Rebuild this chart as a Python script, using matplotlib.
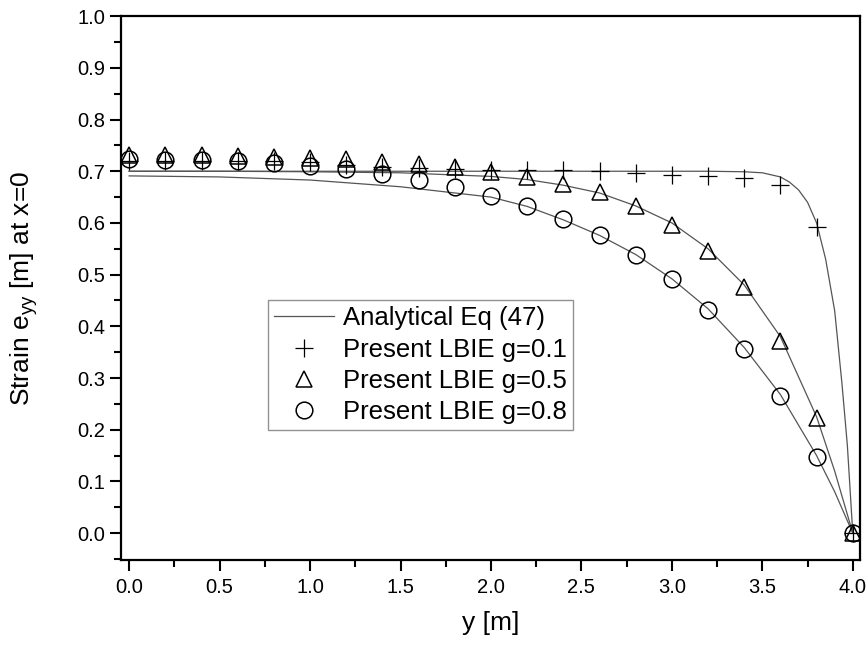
import matplotlib
matplotlib.use("Agg")
import matplotlib.pyplot as plt
from matplotlib.ticker import MultipleLocator, FormatStrFormatter

plt.rcParams['font.family'] = ['Liberation Sans', 'DejaVu Sans']
plt.rcParams['mathtext.fontset'] = 'custom'
plt.rcParams['mathtext.rm'] = 'Liberation Sans'
plt.rcParams['mathtext.it'] = 'Liberation Sans:italic'

# LBIE points
y_pts = [0.0, 0.2, 0.4, 0.6, 0.8, 1.0, 1.2, 1.4, 1.6, 1.8, 2.0,
         2.2, 2.4, 2.6, 2.8, 3.0, 3.2, 3.4, 3.6, 3.8, 4.0]
e_g01 = [0.720, 0.720, 0.720, 0.720, 0.719, 0.717, 0.713, 0.709, 0.707, 0.705, 0.703,
         0.703, 0.702, 0.700, 0.697, 0.693, 0.690, 0.687, 0.673, 0.592, 0.0]
e_g05 = [0.731, 0.731, 0.731, 0.730, 0.728, 0.725, 0.723, 0.718, 0.714, 0.708, 0.699,
         0.689, 0.676, 0.659, 0.632, 0.596, 0.546, 0.476, 0.372, 0.223, 0.0]
e_g08 = [0.723, 0.721, 0.721, 0.719, 0.715, 0.710, 0.704, 0.695, 0.683, 0.669, 0.652,
         0.633, 0.608, 0.576, 0.538, 0.491, 0.432, 0.357, 0.265, 0.148, 0.0]

# analytical curves
ya_g01 = [0.0, 0.5, 1.0, 1.5, 2.0, 2.5, 3.0, 3.2, 3.4, 3.5, 3.6, 3.65, 3.7,
          3.75, 3.8, 3.85, 3.9, 3.94, 3.97, 4.0]
ea_g01 = [0.700, 0.700, 0.700, 0.700, 0.700, 0.700, 0.700, 0.700, 0.699, 0.697,
          0.689, 0.679, 0.664, 0.640, 0.600, 0.530, 0.430, 0.290, 0.170, 0.0]
ya_g05 = [0.0, 0.5, 1.0, 1.5, 2.0, 2.2, 2.4, 2.6, 2.8, 3.0, 3.2, 3.4, 3.6, 3.8, 3.9, 4.0]
ea_g05 = [0.700, 0.700, 0.699, 0.697, 0.690, 0.684, 0.673, 0.658, 0.633, 0.600,
          0.550, 0.480, 0.380, 0.225, 0.120, 0.0]
ya_g08 = [0.0, 0.5, 1.0, 1.5, 2.0, 2.2, 2.4, 2.6, 2.8, 3.0, 3.2, 3.4, 3.6, 3.8, 3.9, 4.0]
ea_g08 = [0.691, 0.689, 0.683, 0.670, 0.650, 0.632, 0.606, 0.576, 0.539, 0.492,
          0.434, 0.359, 0.268, 0.150, 0.080, 0.0]

fig = plt.figure(figsize=(8.68, 6.46), dpi=100)
ax = fig.add_axes([0.1394, 0.1331, 0.8514, 0.8419])

lc = '#555555'
ax.plot(ya_g01, ea_g01, color=lc, lw=0.9, label='Analytical Eq (47)')
ax.plot(ya_g05, ea_g05, color=lc, lw=0.9)
ax.plot(ya_g08, ea_g08, color=lc, lw=0.9)

ax.plot(y_pts, e_g01, ls='none', marker='+', ms=13, mew=0.9, color='k',
        label='Present LBIE g=0.1')
ax.plot(y_pts, e_g05, ls='none', marker='^', ms=12, mew=1.1, mfc='none', mec='k',
        label='Present LBIE g=0.5')
ax.plot(y_pts, e_g08, ls='none', marker='o', ms=12, mew=1.1, mfc='none', mec='k',
        label='Present LBIE g=0.8')

ax.set_xlim(-0.045, 4.04)
ax.set_ylim(-0.052, 1.0)
ax.xaxis.set_major_locator(MultipleLocator(0.5))
ax.xaxis.set_minor_locator(MultipleLocator(0.25))
ax.yaxis.set_major_locator(MultipleLocator(0.1))
ax.yaxis.set_minor_locator(MultipleLocator(0.05))
ax.xaxis.set_major_formatter(FormatStrFormatter('%.1f'))
ax.yaxis.set_major_formatter(FormatStrFormatter('%.1f'))
ax.tick_params(which='major', direction='out', length=8, width=1.5, labelsize=14.5,
               top=False, right=False)
ax.tick_params(which='minor', direction='out', length=5, width=1.5,
               top=False, right=False)
ax.tick_params(axis='x', which='major', pad=5)
for s in ax.spines.values():
    s.set_linewidth(1.6)

ax.set_xlabel('y [m]', fontsize=19, labelpad=10)
ax.set_ylabel(r'Strain e$_{\mathrm{yy}}$ [m] at x=0', fontsize=19, labelpad=27)

leg = ax.legend(loc='upper left', bbox_to_anchor=(0.199, 0.478), borderaxespad=0,
                fontsize=18.5, frameon=True, fancybox=False, edgecolor='#777777',
                handlelength=2.3, handletextpad=0.36, labelspacing=0.28,
                borderpad=0.25)
leg.get_frame().set_linewidth(1.0)

fig.savefig('out.png', dpi=100)
